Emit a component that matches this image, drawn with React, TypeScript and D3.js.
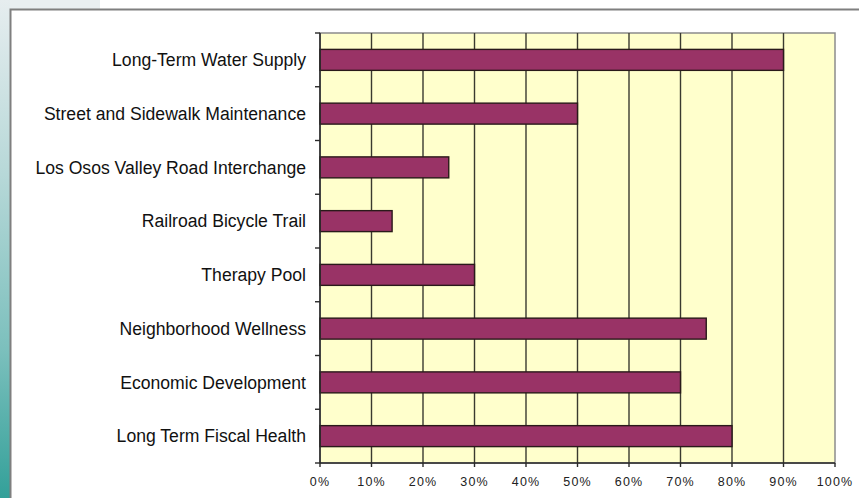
import React from "react";
import * as d3 from "d3";

const categories = [
  "Long-Term Water Supply",
  "Street and Sidewalk Maintenance",
  "Los Osos Valley Road Interchange",
  "Railroad Bicycle Trail",
  "Therapy Pool",
  "Neighborhood Wellness",
  "Economic Development",
  "Long Term Fiscal Health",
];
const values = [90, 50, 25, 14, 30, 75, 70, 80];
const xTicks = [0, 10, 20, 30, 40, 50, 60, 70, 80, 90, 100];

const W = 859;
const H = 498;
const plot = { left: 320, right: 835, top: 33, bottom: 463 };

export default function App() {
  const x = d3.scaleLinear().domain([0, 100]).range([plot.left, plot.right]);
  const y = d3
    .scaleBand<string>()
    .domain(categories)
    .range([plot.top, plot.bottom])
    .paddingInner(0.61)
    .paddingOuter(0.305);
  const band = (plot.bottom - plot.top) / categories.length;
  const boundaries = d3.range(categories.length + 1).map((i) => plot.top + i * band);

  return (
    <svg
      width={W}
      height={H}
      style={{ position: "absolute", left: 0, top: 0, fontFamily: "'Liberation Sans', Arial, sans-serif" }}
    >
      <defs>
        <linearGradient id="side" x1="0" y1="0" x2="0" y2="1">
          <stop offset="0" stopColor="#e6edef" />
          <stop offset="0.35" stopColor="#b7d8d8" />
          <stop offset="0.7" stopColor="#7cc0bd" />
          <stop offset="1" stopColor="#33a099" />
        </linearGradient>
      </defs>
      <rect x={0} y={0} width={W} height={H} fill="#ffffff" />
      <rect x={0} y={0} width={100} height={9} fill="#e9eff1" />
      <rect x={0} y={0} width={10} height={H} fill="url(#side)" />
      <rect x={10.5} y={9.5} width={W + 10} height={H + 10} fill="#ffffff" stroke="#7f7f7f" strokeWidth={2} />

      {/* plot background */}
      <rect
        x={plot.left}
        y={plot.top}
        width={plot.right - plot.left}
        height={plot.bottom - plot.top}
        fill="#ffffcc"
        stroke="#8c8c8c"
        strokeWidth={1.5}
      />
      {/* gridlines */}
      {xTicks.slice(1, -1).map((t) => (
        <line key={t} x1={x(t)} x2={x(t)} y1={plot.top} y2={plot.bottom} stroke="#3a3a30" strokeWidth={1.4} />
      ))}
      {/* bars */}
      {categories.map((c, i) => (
        <rect
          key={c}
          x={x(0)}
          y={y(c)!}
          width={x(values[i]) - x(0)}
          height={y.bandwidth()}
          fill="#993366"
          stroke="#2a1a1a"
          strokeWidth={1.4}
        />
      ))}
      {/* y axis */}
      <line x1={plot.left} x2={plot.left} y1={plot.top} y2={plot.bottom} stroke="#2a2a2a" strokeWidth={1.6} />
      {boundaries.map((b, i) => (
        <line key={i} x1={plot.left - 5} x2={plot.left} y1={b} y2={b} stroke="#2a2a2a" strokeWidth={1.4} />
      ))}
      {/* x axis */}
      <line x1={plot.left} x2={plot.right} y1={plot.bottom} y2={plot.bottom} stroke="#2a2a2a" strokeWidth={1.6} />
      {xTicks.map((t) => (
        <line key={t} x1={x(t)} x2={x(t)} y1={plot.bottom} y2={plot.bottom + 4} stroke="#2a2a2a" strokeWidth={1.4} />
      ))}
      {xTicks.map((t) => (
        <text
          key={t}
          x={x(t)}
          y={plot.bottom + 23}
          textAnchor="middle"
          fontSize={12.5}
          fill="#222"
          letterSpacing={1.1}
        >
          {t}%
        </text>
      ))}
      {/* category labels */}
      {categories.map((c) => (
        <text
          key={c}
          x={306}
          y={y(c)! + y.bandwidth() / 2}
          dy="0.35em"
          textAnchor="end"
          fontSize={17.6}
          fill="#111"
        >
          {c}
        </text>
      ))}
    </svg>
  );
}
